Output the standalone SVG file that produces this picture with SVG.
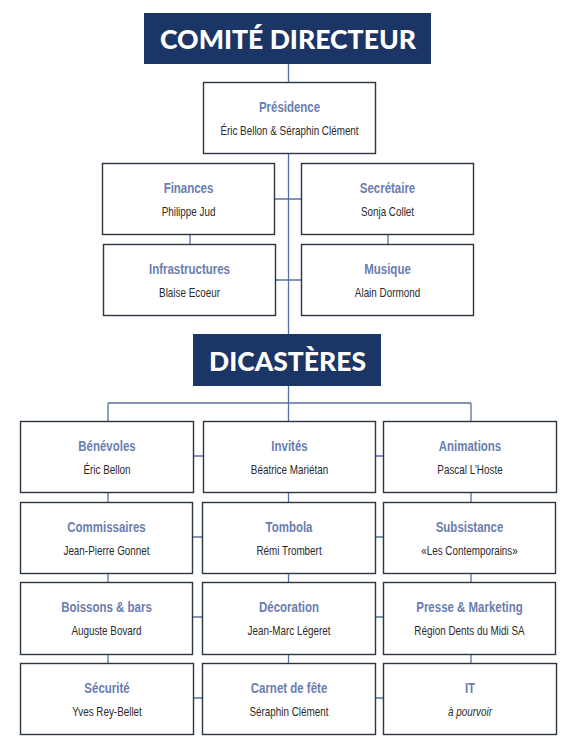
<svg xmlns="http://www.w3.org/2000/svg" width="573" height="750" viewBox="0 0 573 750">
<style>
.hdr{fill:#1b3567}
.hdrt{fill:#ffffff;font-family:"Lato","Open Sans",sans-serif;font-weight:900;text-anchor:middle}
.box{fill:#ffffff;stroke:#2b3640;stroke-width:1.4}
.t{fill:#6a7db0;font-family:"Liberation Sans",Arial,sans-serif;font-weight:bold;font-size:14px;text-anchor:middle}
.n{fill:#2a2a2a;font-family:"Liberation Sans",Arial,sans-serif;font-size:13px;text-anchor:middle}
.i{font-style:italic}
.c{stroke:#5a6fa3;stroke-width:1.3;fill:none}
</style>
<rect width="573" height="750" fill="#ffffff"/>
<g id="connectors" class="c">
<path d="M288.5 64V334"/>
<path d="M274 199H301M275 280H301"/>
<path d="M190 234V244M388 234V244"/>
<path d="M288.5 386V421M108 403H471M108 403V421M471 403V421"/>
<path d="M108 492V502M108 573V582M108 654V663"/>
<path d="M288.5 492V502M288.5 573V582M288.5 654V663"/>
<path d="M471 492V502M471 573V582M471 654V663"/>
<path d="M193 456H203M376 456H383M193 537H203M376 537H383M193 617H203M376 617H383M193 698H203M376 698H383"/>
</g>
<g id="comite">
<rect class="hdr" x="144" y="13" width="287" height="51"/>
<text class="hdrt" x="288" y="49" font-size="27" textLength="256" lengthAdjust="spacingAndGlyphs">COMITÉ DIRECTEUR</text>
</g>
<g id="presidence">
<rect class="box" x="203.5" y="82.5" width="172" height="71"/>
<text class="t" transform="translate(289.5 111.5) scale(0.82 1)">Présidence</text>
<text class="n" transform="translate(289.5 134.5) scale(0.76 1)">Éric Bellon &amp; Séraphin Clément</text>
</g>
<g id="finances">
<rect class="box" x="102.5" y="163.5" width="172" height="71"/>
<text class="t" transform="translate(188.5 192.5) scale(0.82 1)">Finances</text>
<text class="n" transform="translate(188.5 215.5) scale(0.76 1)">Philippe Jud</text>
</g>
<g id="secretaire">
<rect class="box" x="301.5" y="163.5" width="172" height="71"/>
<text class="t" transform="translate(387.5 192.5) scale(0.82 1)">Secrétaire</text>
<text class="n" transform="translate(387.5 215.5) scale(0.76 1)">Sonja Collet</text>
</g>
<g id="infrastructures">
<rect class="box" x="103.5" y="244.5" width="172" height="71"/>
<text class="t" transform="translate(189.5 273.5) scale(0.82 1)">Infrastructures</text>
<text class="n" transform="translate(189.5 296.5) scale(0.76 1)">Blaise Ecoeur</text>
</g>
<g id="musique">
<rect class="box" x="301.5" y="244.5" width="172" height="71"/>
<text class="t" transform="translate(387.5 273.5) scale(0.82 1)">Musique</text>
<text class="n" transform="translate(387.5 296.5) scale(0.76 1)">Alain Dormond</text>
</g>
<g id="dicasteres">
<rect class="hdr" x="193" y="334" width="188" height="52"/>
<text class="hdrt" x="287.5" y="371" font-size="27" textLength="157" lengthAdjust="spacingAndGlyphs">DICASTÈRES</text>
</g>
<g id="benevoles">
<rect class="box" x="20.5" y="421.5" width="173" height="71"/>
<text class="t" transform="translate(107 450.5) scale(0.82 1)">Bénévoles</text>
<text class="n" transform="translate(107 473.5) scale(0.76 1)">Éric Bellon</text>
</g>
<g id="invites">
<rect class="box" x="203.5" y="421.5" width="172" height="71"/>
<text class="t" transform="translate(289.5 450.5) scale(0.82 1)">Invités</text>
<text class="n" transform="translate(289.5 473.5) scale(0.76 1)">Béatrice Mariétan</text>
</g>
<g id="animations">
<rect class="box" x="383.5" y="421.5" width="173" height="71"/>
<text class="t" transform="translate(470 450.5) scale(0.82 1)">Animations</text>
<text class="n" transform="translate(470 473.5) scale(0.76 1)">Pascal L’Hoste</text>
</g>
<g id="commissaires">
<rect class="box" x="20.5" y="502.5" width="172" height="71"/>
<text class="t" transform="translate(106.5 531.5) scale(0.82 1)">Commissaires</text>
<text class="n" transform="translate(106.5 554.5) scale(0.76 1)">Jean-Pierre Gonnet</text>
</g>
<g id="tombola">
<rect class="box" x="202.5" y="502.5" width="173" height="71"/>
<text class="t" transform="translate(289 531.5) scale(0.82 1)">Tombola</text>
<text class="n" transform="translate(289 554.5) scale(0.76 1)">Rémi Trombert</text>
</g>
<g id="subsistance">
<rect class="box" x="383.5" y="502.5" width="172" height="71"/>
<text class="t" transform="translate(469.5 531.5) scale(0.82 1)">Subsistance</text>
<text class="n" transform="translate(469.5 554.5) scale(0.76 1)">«Les Contemporains»</text>
</g>
<g id="boissons">
<rect class="box" x="20.5" y="582.5" width="172" height="72"/>
<text class="t" transform="translate(106.5 611.5) scale(0.82 1)">Boissons &amp; bars</text>
<text class="n" transform="translate(106.5 634.5) scale(0.76 1)">Auguste Bovard</text>
</g>
<g id="decoration">
<rect class="box" x="202.5" y="582.5" width="173" height="72"/>
<text class="t" transform="translate(289 611.5) scale(0.82 1)">Décoration</text>
<text class="n" transform="translate(289 634.5) scale(0.76 1)">Jean-Marc Légeret</text>
</g>
<g id="presse">
<rect class="box" x="383.5" y="582.5" width="172" height="72"/>
<text class="t" transform="translate(469.5 611.5) scale(0.82 1)">Presse &amp; Marketing</text>
<text class="n" transform="translate(469.5 634.5) scale(0.76 1)">Région Dents du Midi SA</text>
</g>
<g id="securite">
<rect class="box" x="20.5" y="663.5" width="173" height="71"/>
<text class="t" transform="translate(107 692.5) scale(0.82 1)">Sécurité</text>
<text class="n" transform="translate(107 715.5) scale(0.76 1)">Yves Rey-Bellet</text>
</g>
<g id="carnet">
<rect class="box" x="202.5" y="663.5" width="173" height="71"/>
<text class="t" transform="translate(289 692.5) scale(0.82 1)">Carnet de fête</text>
<text class="n" transform="translate(289 715.5) scale(0.76 1)">Séraphin Clément</text>
</g>
<g id="it">
<rect class="box" x="383.5" y="663.5" width="173" height="71"/>
<text class="t" transform="translate(470 692.5) scale(0.82 1)">IT</text>
<text class="n i" transform="translate(470 715.5) scale(0.76 1)">à pourvoir</text>
</g>
</svg>
